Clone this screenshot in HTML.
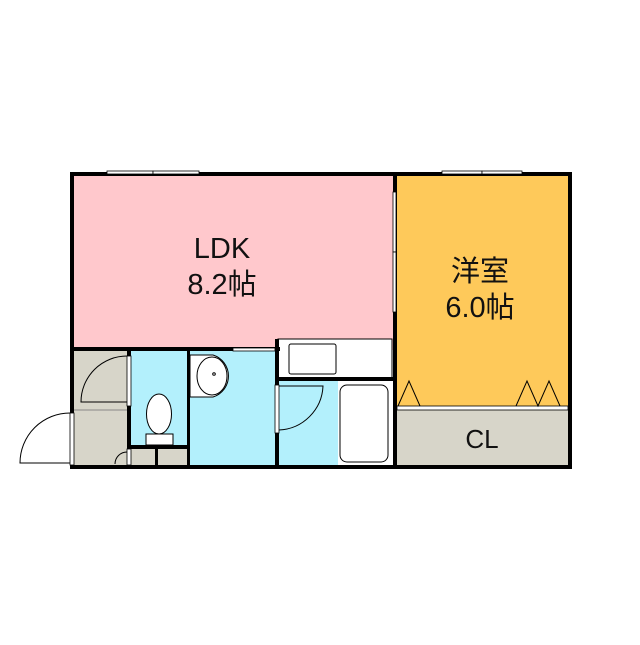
<!DOCTYPE html><html><head><style>body{margin:0;background:#fff}</style></head><body>
<svg width="640" height="640" viewBox="0 0 640 640" xmlns="http://www.w3.org/2000/svg" font-family="Liberation Sans, Noto Sans CJK JP, sans-serif">
<rect x="0" y="0" width="640" height="640" fill="#fff"/>
<rect x="72" y="174" width="322" height="176" fill="#ffc8cc"/>
<rect x="395" y="174" width="175" height="235" fill="#fec95a"/>
<rect x="395" y="409" width="175" height="58" fill="#d7d5c9"/>
<rect x="72" y="350" width="58" height="117" fill="#d7d5c9"/>
<rect x="130" y="350" width="58" height="96" fill="#b3f0fc"/>
<rect x="130" y="446" width="58" height="21" fill="#d7d5c9"/>
<rect x="188" y="350" width="90" height="117" fill="#b3f0fc"/>
<rect x="278" y="380" width="60" height="87" fill="#b3f0fc"/>
<rect x="338" y="380" width="54" height="87" fill="#fff"/>
<rect x="278" y="339" width="114" height="41" fill="#fff"/>
<g fill="#000">
<rect x="70" y="172" width="502" height="4"/>
<rect x="70" y="465" width="502" height="4"/>
<rect x="70" y="172" width="4" height="297"/>
<rect x="568" y="172" width="4" height="297"/>
<rect x="393" y="172" width="4" height="297"/>
<rect x="70" y="347" width="210" height="4"/>
<rect x="127" y="347" width="4" height="120"/>
<rect x="187" y="347" width="3" height="120"/>
<rect x="275" y="339" width="4" height="128"/>
<rect x="275" y="377" width="120" height="4"/>
<rect x="127" y="445" width="63" height="4"/>
<rect x="155" y="445" width="3" height="22"/>
</g>
<line x1="74" y1="410" x2="127" y2="410" stroke="#888" stroke-width="1"/>
<rect x="278" y="339" width="114" height="41" fill="none" stroke="#000" stroke-width="1"/>
<rect x="289" y="344" width="47" height="30" rx="2" fill="#fff" stroke="#000"/>
<g fill="#fff" stroke="#000" stroke-width="0.8">
<rect x="107" y="171" width="46" height="3"/><rect x="153" y="171" width="46" height="3"/>
<rect x="442" y="171" width="40" height="3"/><rect x="482" y="171" width="40" height="3"/>
<rect x="393" y="192" width="3" height="60"/><rect x="393" y="252" width="3" height="60"/>
<rect x="70" y="413" width="4" height="52"/>
<rect x="127" y="356" width="4" height="50"/>
<rect x="275" y="385" width="4" height="48"/>
<rect x="127" y="449" width="4" height="16"/>
<rect x="233" y="348" width="42" height="3"/>
</g>
<rect x="397" y="406" width="171" height="4" fill="#fff" stroke="#000" stroke-width="0.8"/>
<g fill="none" stroke="#000" stroke-width="1">
<path d="M70 413 A50 50 0 0 0 20 463 L70 463"/>
<path d="M127 356 A46 46 0 0 0 81 402 L127 402"/>
<path d="M279 386 L323 386 A46 46 0 0 1 279 430"/>
<path d="M127 452 A12 12 0 0 0 115 464"/>
<path d="M190 355 L213 355 A22 22 0 0 1 213 397 L190 397 Z" fill="#fff"/>
<ellipse cx="212" cy="376" rx="15" ry="19" fill="#fff"/>
<circle cx="214" cy="374" r="1.3"/>
<ellipse cx="159" cy="414" rx="12.5" ry="20" fill="#fff"/>
<rect x="146" y="434" width="27" height="11" fill="#fff"/>
<rect x="340" y="385" width="48" height="77" rx="7" fill="#fff"/>
<path d="M398 406 L409 381 L420 406 M516 406 L527 381 L538 406 L549 381 L560 406"/>
</g>
<g font-size="29" text-anchor="middle" fill="#111">
<text x="222" y="258">LDK</text>
<text x="222" y="294">8.2帖</text>
<text x="480" y="281">洋室</text>
<text x="480" y="317">6.0帖</text>
<text x="482" y="448" font-size="26">CL</text>
</g>
</svg>
</body></html>
